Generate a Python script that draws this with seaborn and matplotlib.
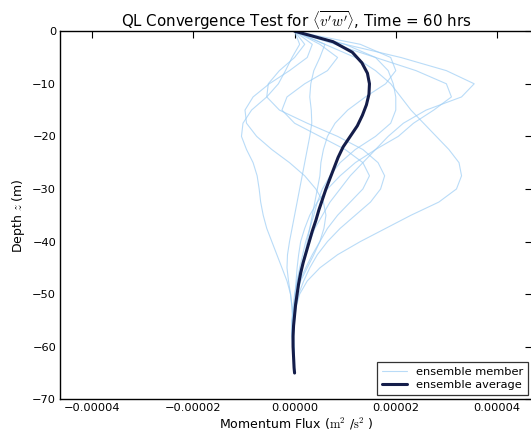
import numpy as np
import pandas as pd
import matplotlib
matplotlib.use("Agg")
import matplotlib.pyplot as plt
from matplotlib.ticker import FuncFormatter
import seaborn as sns

# ---------------- data (flux in units of 1e-5 m^2/s^2) ----------------
SCALE = 1e-5
depth = [0, -2.5, -5, -7.5, -10, -12.5, -15, -17.5, -20, -22.5, -25, -27.5, -30,
         -32.5, -35, -37.5, -40, -42.5, -45, -47.5, -50, -52.5, -55, -57.5, -60, -62.5, -65]

member_1 = [0, 1.0, 2.1, 3.0, 3.55, 3.3, 2.6, 2.15, 1.85, 1.6, 1.35, 1.1, 0.9, 0.7, 0.55, 0.4,
            0.3, 0.2, 0.12, 0.05, 0.0, -0.03, -0.05, -0.04, -0.02, -0.01, 0]
member_2 = [0, 0.8, 1.6, 2.4, 3.0, 3.1, 2.75, 2.35, 2.05, 1.6, 1.2, 0.9, 0.65, 0.45, 0.3, 0.2,
            0.12, 0.08, 0.05, 0.03, 0.01, 0.0, -0.02, -0.03, -0.02, -0.01, 0]
member_3 = [0, 0.6, 1.2, 1.6, 1.9, 2.1, 2.3, 2.55, 2.8, 3.05, 3.25, 3.3, 3.2, 2.85, 2.3, 1.8,
            1.3, 0.85, 0.5, 0.25, 0.1, 0.03, 0.0, -0.02, -0.02, -0.01, 0]
member_4 = [0, 1.3, 1.9, 2.0, 1.8, 1.4, 1.05, 0.8, 0.65, 0.57, 0.52, 0.5, 0.45, 0.4, 0.35, 0.3,
            0.25, 0.2, 0.15, 0.1, 0.05, 0.0, -0.03, -0.04, -0.03, -0.01, 0]
member_5 = [0, 0.1, -0.05, -0.18, -0.32, -0.55, -0.85, -1.02, -1.05, -0.95, -0.82, -0.74, -0.7,
            -0.67, -0.62, -0.55, -0.45, -0.35, -0.25, -0.15, -0.08, -0.05, -0.04, -0.03, -0.02, -0.01, 0]
member_6 = [0, 0.35, 0.25, -0.1, -0.5, -0.82, -0.98, -0.95, -0.75, -0.45, -0.1, 0.2, 0.42, 0.57,
            0.62, 0.58, 0.5, 0.38, 0.25, 0.12, 0.05, 0.0, -0.05, -0.06, -0.04, -0.02, 0]
member_7 = [0, 0.5, 0.85, 0.65, 0.2, -0.15, -0.25, 0.0, 0.5, 1.0, 1.35, 1.48, 1.35, 1.1, 0.85, 0.65,
            0.5, 0.35, 0.22, 0.1, 0.03, -0.02, -0.05, -0.05, -0.03, -0.01, 0]
member_8 = [0, 1.0, 1.6, 1.85, 1.95, 2.0, 2.0, 1.9, 1.6, 1.2, 0.9, 0.7, 0.55, 0.45, 0.38, 0.3,
            0.22, 0.16, 0.1, 0.05, 0.02, 0.0, -0.02, -0.03, -0.02, -0.01, 0]
member_9 = [0, 0.6, 0.5, 0.38, 0.32, 0.3, 0.33, 0.34, 0.3, 0.25, 0.2, 0.15, 0.1, 0.05, 0.0,
            -0.05, -0.1, -0.14, -0.15, -0.12, -0.08, -0.05, -0.03, -0.02, -0.01, 0, 0]
member_10 = [0, 0.2, 0.0, -0.3, -0.52, -0.55, -0.3, 0.25, 0.85, 1.35, 1.65, 1.78, 1.7, 1.5, 1.2, 0.9,
             0.65, 0.45, 0.3, 0.18, 0.08, 0.02, -0.02, -0.03, -0.02, -0.01, 0]

avg_depth = [0, -2, -4, -6, -8, -10, -12, -14, -16, -18, -20, -22, -24, -26, -28, -30, -32,
             -34, -36, -38, -40, -42, -44, -46, -48, -50, -52, -54, -56, -58, -60, -62, -64, -65]
avg_flux = [0, 0.76, 1.14, 1.33, 1.44, 1.48, 1.47, 1.42, 1.34, 1.24, 1.10, 0.96, 0.86, 0.78,
            0.70, 0.62, 0.55, 0.48, 0.42, 0.35, 0.29, 0.23, 0.17, 0.12, 0.08, 0.05, 0.02, 0.0,
            -0.02, -0.03, -0.03, -0.02, -0.01, 0.0]

members = [member_1, member_2, member_3, member_4, member_5,
           member_6, member_7, member_8, member_9, member_10]

xticks = [-0.00004, -0.00002, 0.0, 0.00002, 0.00004]
yticks = [0, -10, -20, -30, -40, -50, -60, -70]

title = r"QL Convergence Test for $\langle \overline{v^\prime w^\prime} \rangle$, Time = 60 hrs"
xlabel = r"Momentum Flux ($\mathrm{m}^2$ /$\mathrm{s}^2$ )"
ylabel = r"Depth $z$ (m)"

# ---------------- build frames ----------------
rows = []
for i, m in enumerate(members):
    for d, v in zip(depth, m):
        rows.append({"member": i, "depth": d, "flux": v * SCALE})
df_members = pd.DataFrame(rows)
df_avg = pd.DataFrame({"depth": avg_depth, "flux": np.array(avg_flux) * SCALE})

# ---------------- style ----------------
sns.set_style("white")
plt.rcParams.update({
    "font.family": ["DejaVu Sans"],
    "mathtext.fontset": "cm",
    "text.color": "black",
    "axes.labelcolor": "black",
    "xtick.color": "black",
    "ytick.color": "black",
    "xtick.direction": "in",
    "ytick.direction": "in",
    "xtick.top": True,
    "ytick.right": True,
    "xtick.major.size": 5,
    "ytick.major.size": 5,
    "axes.edgecolor": "black",
    "axes.linewidth": 1.0,
    "legend.fancybox": False,
})

fig = plt.figure(figsize=(5.31, 4.43), dpi=100)
ax = fig.add_axes([0.1136, 0.0986, 0.889, 0.831])

member_color = "#9ccdf5"
avg_color = "#141d4a"

sns.lineplot(data=df_members, x="flux", y="depth", units="member", estimator=None,
             sort=False, color=member_color, linewidth=0.8, alpha=0.7, ax=ax, legend=False)
sns.lineplot(data=df_avg, x="flux", y="depth", sort=False, estimator=None,
             color=avg_color, linewidth=2.2, ax=ax, legend=False)

ax.set_xlim(-4.63e-5, 4.70e-5)
ax.set_ylim(-70, 0)
ax.set_xticks(xticks)
ax.set_yticks(yticks)
ax.xaxis.set_major_formatter(FuncFormatter(lambda v, p: ("%.5f" % v).replace("-", "\u2212")))
ax.yaxis.set_major_formatter(FuncFormatter(lambda v, p: ("%d" % v).replace("-", "\u2212")))
ax.tick_params(labelsize=8.2, colors="black", pad=3)
for s in ax.spines.values():
    s.set_visible(True)
    s.set_color("black")

ax.set_title(title, fontsize=10.8, pad=3, color="black")
ax.set_xlabel(xlabel, fontsize=9, labelpad=2, color="black")
ax.set_ylabel(ylabel, fontsize=9, labelpad=4, color="black")

member_handle = ax.lines[0]
avg_handle = ax.lines[-1]
leg = ax.legend([member_handle, avg_handle], ["ensemble member", "ensemble average"],
                loc="lower right", fontsize=8.2, frameon=True, borderaxespad=0.4,
                handlelength=2.2, labelspacing=0.3)
leg.get_frame().set_edgecolor("black")
leg.get_frame().set_linewidth(0.9)
for t in leg.get_texts():
    t.set_color("black")

fig.savefig("out.png", dpi=100)
